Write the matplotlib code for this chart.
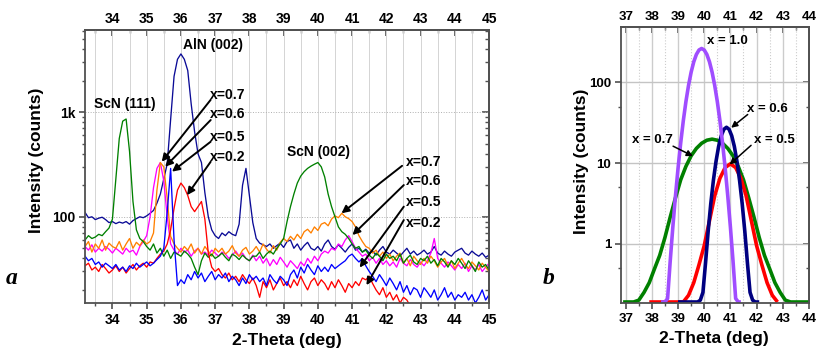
import numpy as np
import matplotlib
matplotlib.use('Agg')
import matplotlib.pyplot as plt
from matplotlib.ticker import FixedLocator, MultipleLocator, FuncFormatter, NullFormatter, LogLocator

plt.rcParams['font.family'] = ['Liberation Sans', 'DejaVu Sans']
plt.rcParams['font.weight'] = 'bold'
plt.rcParams['axes.labelweight'] = 'bold'

# ---------------- Panel a data (XRD scans, 0.1 deg grid 33.2 .. 45.0) ----------------
two_theta_a = np.round(np.arange(33.2, 45.05, 0.1), 1)

scan_aln = [110, 98, 100, 94, 97, 99, 94, 88, 90, 86,
            89, 87, 90, 85, 92, 96, 100, 98, 102, 108,
            115, 135, 165, 230, 320, 850, 2200, 3200, 3600, 3200,
            2500, 1200, 650, 400, 330, 170, 100, 75, 66, 62,
            70, 66, 72, 68, 66, 85, 200, 290, 160, 88,
            62, 56, 54, 52, 55, 50, 53, 56, 51, 58,
            60, 50, 55, 48, 53, 57, 50, 48, 52, 47,
            55, 60, 52, 49, 54, 50, 46, 51, 55, 48,
            50, 46, 49, 45, 47, 43, 48, 52, 46, 44,
            48, 45, 42, 46, 50, 44, 47, 43, 45, 48,
            44, 46, 52, 45, 43, 47, 44, 42, 46, 48,
            50, 45, 43, 47, 44, 42, 45, 41, 43]

scan_scn = [60, 66, 62, 64, 68, 66, 72, 78, 95, 230,
            560, 820, 860, 420, 140, 75, 62, 58, 52, 48,
            55, 45, 50, 42, 48, 40, 46, 44, 42, 47,
            44, 40, 33, 28, 38, 45, 41, 44, 40, 42,
            45, 41, 38, 44, 42, 39, 43, 40, 38, 42,
            42, 46, 40, 44, 47, 44, 50, 55, 62, 90,
            125, 165, 210, 245, 270, 290, 305, 318, 330, 300,
            240, 165, 125, 100, 80, 72, 68, 62, 55, 50,
            52, 46, 48, 43, 40, 45, 42, 38, 44, 40,
            42, 38, 44, 36, 40, 43, 37, 35, 40, 38,
            42, 36, 39, 34, 40, 37, 33, 38, 35, 40,
            36, 32, 38, 34, 30, 37, 33, 35, 31]

scan_x06 = [52, 48, 54, 46, 50, 47, 52, 49, 45, 50,
            47, 44, 50, 46, 48, 43, 52, 58, 66, 100,
            190, 290, 330, 220, 100, 55, 48, 44, 50, 46,
            48, 42, 47, 50, 44, 46, 43, 48, 45, 42,
            46, 44, 40, 43, 47, 42, 45, 40, 38, 43,
            38, 42, 36, 40, 34, 39, 35, 41, 37, 33,
            38, 35, 32, 37, 34, 40, 36, 42, 38, 44,
            47, 45, 50, 48, 55, 52, 60, 66, 58, 50,
            46, 42, 44, 38, 41, 36, 40, 35, 38, 34,
            37, 33, 40, 36, 34, 39, 35, 33, 37, 34,
            38, 45, 62, 40, 36, 33, 37, 34, 31, 35,
            32, 36, 30, 34, 31, 35, 30, 33, 36]

scan_x07 = [52, 58, 46, 55, 50, 60, 48, 56, 52, 50,
            58, 48, 55, 62, 50, 57, 53, 60, 55, 58,
            70, 180, 330, 300, 150, 65, 55, 50, 46, 52,
            48, 55, 45, 50, 44, 52, 47, 42, 50, 46,
            50, 44, 47, 53, 45, 42, 48, 51, 44, 47,
            52, 46, 55, 49, 45, 53, 48, 57, 62, 58,
            65, 60, 68, 62, 72, 76, 70, 80, 74, 85,
            88, 82, 95, 102, 98, 108, 100, 96, 90, 80,
            66, 58, 52, 50, 45, 48, 42, 46, 40, 44,
            38, 42, 45, 36, 40, 34, 42, 38, 35, 40,
            36, 42, 38, 33, 37, 40, 34, 38, 32, 36,
            40, 35, 32, 37, 34, 31, 36, 33, 30]

scan_x02 = [34, 36, 31, 33, 30, 35, 32, 29, 31, 34,
            30, 33, 29, 32, 35, 31, 34, 36, 33, 37,
            36, 40, 44, 47, 55, 75, 120, 180, 210, 190,
            160, 125, 112, 125, 140, 95, 45, 33, 30, 32,
            28, 26, 29, 25, 27, 24, 28, 25, 23, 26,
            22, 17, 24, 21, 25, 20, 23, 26, 22, 24,
            21, 25, 22, 27, 23, 20, 24, 26, 22, 25,
            23, 20, 24, 21, 25, 22, 19, 23, 21, 24,
            22, 26, 25, 27, 23, 20, 18, 21, 17, 19,
            16, 18, 15, 17, 16, 14, 13, 14, 13, 12,
            13, 12, 14, 13, 12, 13, 14, 12, 13, 12,
            13, 12, 14, 13, 12, 13, 12, 14, 13]

scan_x05 = [42, 38, 40, 35, 37, 33, 36, 34, 32, 35,
            31, 33, 30, 34, 32, 36, 33, 35, 37, 34,
            36, 39, 42, 50, 110, 290, 60, 22, 25, 23,
            28, 25, 30, 26, 29, 24, 27, 30, 25, 28,
            26, 29, 24, 27, 25, 22, 26, 23, 28, 25,
            27, 24, 26, 22, 28, 25, 23, 27, 25, 22,
            28, 31, 26, 33, 29, 35, 31, 28, 34, 30,
            33, 30, 35, 32, 34, 36, 38, 42, 44, 40,
            37, 40, 34, 30, 27, 24, 28, 25, 22, 26,
            23, 20, 24, 19, 22, 18, 21, 20, 17, 21,
            19, 17, 20, 16, 18, 21, 17, 19, 16, 18,
            17, 19, 16, 18, 15, 17, 20, 16, 18]

series_a = [
    (scan_aln, '#0a0a96'),
    (scan_x06, '#ff00ff'),
    (scan_x07, '#ff8000'),
    (scan_scn, '#008000'),
    (scan_x02, '#ff0000'),
    (scan_x05, '#0000ff'),
]

ticks_a = [34, 35, 36, 37, 38, 39, 40, 41, 42, 43, 44, 45]
minor_a = [33.5, 34.5, 35.5, 36.5, 37.5, 38.5, 39.5, 40.5, 41.5, 42.5, 43.5, 44.5]

# ---------------- Panel b data (fitted peak profiles) ----------------
tt_x10 = [38.35, 38.5, 38.6, 38.7, 38.8, 38.9, 39.0, 39.1, 39.2, 39.3, 39.4, 39.5, 39.6,
          39.7, 39.8, 39.9, 40.0, 40.1, 40.2, 40.3, 40.4, 40.5, 40.6, 40.7, 40.8, 40.9,
          41.0, 41.1, 41.2, 41.3, 41.4]
int_x10 = [0.19, 0.19, 0.21, 0.61, 1.61, 3.89, 8.67, 17.7, 33.4, 57.7, 91.7, 134, 180,
           222, 252, 263, 252, 222, 180, 134, 91.7, 57.7, 33.4, 17.7, 8.67, 3.89,
           1.61, 0.61, 0.21, 0.19, 0.19]

tt_x06 = [39.0, 39.75, 39.85, 39.95, 40.05, 40.15, 40.25, 40.35, 40.45, 40.55, 40.65,
          40.75, 40.85, 40.95, 41.05, 41.15, 41.25, 41.35, 41.45, 41.55, 41.65, 41.75,
          41.85, 41.95, 42.1]
int_x06 = [0.19, 0.19, 0.20, 0.25, 0.58, 1.43, 3.14, 6.11, 10.5, 16.1, 21.8,
           26.2, 27.8, 26.2, 21.8, 16.1, 10.5, 6.11, 3.14, 1.43, 0.58, 0.25,
           0.20, 0.19, 0.19]

tt_x05 = [37.9, 39.2, 39.4, 39.6, 39.8, 40.0, 40.2, 40.4, 40.6, 40.8, 41.0, 41.2,
          41.4, 41.6, 41.8, 42.0, 42.2, 42.4, 42.6, 42.8]
int_x05 = [0.19, 0.19, 0.23, 0.33, 0.55, 0.95, 1.93, 3.93, 6.5, 8.8, 9.8, 8.8,
           6.5, 3.93, 1.93, 0.95, 0.55, 0.33, 0.23, 0.19]

tt_x07 = [36.9, 37.3, 37.5, 37.7, 37.9, 38.1, 38.3, 38.5, 38.7, 38.9, 39.1, 39.3, 39.5,
          39.7, 39.9, 40.1, 40.3, 40.5, 40.7, 40.9, 41.1, 41.3, 41.5, 41.7, 41.9, 42.1,
          42.3, 42.5, 42.7, 42.9, 43.1, 43.3, 44.0]
int_x07 = [0.19, 0.19, 0.20, 0.25, 0.33, 0.49, 0.72, 1.2, 2.14, 3.7, 6.2, 9.1, 12.3,
           15.2, 17.6, 19.2, 19.8, 19.2, 17.6, 15.2, 12.3, 9.1, 6.2, 3.7, 2.14, 1.2,
           0.72, 0.49, 0.33, 0.25, 0.20, 0.19, 0.19]

series_b = [
    (tt_x07, int_x07, '#008000'),
    (tt_x05, int_x05, '#ff0000'),
    (tt_x06, int_x06, '#000080'),
    (tt_x10, int_x10, '#a04dff'),
]

ticks_b = [37, 38, 39, 40, 41, 42, 43, 44]
minor_b = [37.5, 38.5, 39.5, 40.5, 41.5, 42.5, 43.5]

# ---------------- Figure ----------------
fig = plt.figure(figsize=(8.2, 3.54), dpi=100)
axa = fig.add_axes([0.1037, 0.1441, 0.4927, 0.7712])
axb = fig.add_axes([0.757, 0.1432, 0.2295, 0.7814])

spine_col = '#505050'
TICK_FS = 10
TICK_FS_B = 9.5
ANN_FS = 10


def style_spines(ax):
    for s in ax.spines.values():
        s.set_color(spine_col)
        s.set_linewidth(1.3)


# ----- panel a -----
for vals, col in series_a:
    axa.plot(two_theta_a, vals, color=col, lw=0.95)

axa.set_yscale('log')
axa.set_xlim(33.2, 45.0)
axa.set_ylim(15, 6100)
axa.xaxis.set_major_locator(FixedLocator(ticks_a))
axa.xaxis.set_minor_locator(FixedLocator(minor_a))
axa.yaxis.set_major_locator(FixedLocator([100, 1000]))
axa.yaxis.set_minor_locator(LogLocator(base=10, subs=np.arange(2, 10)))
axa.yaxis.set_major_formatter(FuncFormatter(lambda v, p: '1k' if v >= 1000 else '%d' % v))
axa.yaxis.set_minor_formatter(NullFormatter())
axa.tick_params(axis='both', which='major', direction='out', length=4, width=1.2,
                color=spine_col, labelsize=TICK_FS, pad=3)
axa.tick_params(axis='both', which='minor', direction='out', length=2.5, width=1.0,
                color=spine_col)
for lab in axa.get_xticklabels() + axa.get_yticklabels():
    lab.set_fontweight('bold')
axa.grid(True, axis='x', which='both', color='#d4d4d4', lw=0.7)
axa.grid(True, axis='y', which='major', color='#b0b0b0', lw=0.7, ls=':')
axa.set_axisbelow(True)
style_spines(axa)

tax = axa.secondary_xaxis('top')
tax.xaxis.set_major_locator(FixedLocator(ticks_a))
tax.xaxis.set_minor_locator(FixedLocator(minor_a))
tax.tick_params(which='major', direction='in', length=4, width=1.2, color=spine_col,
                labelsize=TICK_FS, pad=3)
tax.tick_params(which='minor', direction='in', length=2.5, width=1.0, color=spine_col)
for lab in tax.get_xticklabels():
    lab.set_fontweight('bold')
tax.spines['top'].set_color(spine_col)
tax.spines['top'].set_linewidth(1.3)

rax = axa.secondary_yaxis('right')
rax.yaxis.set_major_locator(FixedLocator([100, 1000]))
rax.yaxis.set_minor_locator(LogLocator(base=10, subs=np.arange(2, 10)))
rax.yaxis.set_major_formatter(NullFormatter())
rax.yaxis.set_minor_formatter(NullFormatter())
rax.tick_params(which='major', direction='in', length=5, width=1.2, color=spine_col)
rax.tick_params(which='minor', direction='in', length=3, width=1.0, color=spine_col)
rax.spines['right'].set_color(spine_col)
rax.spines['right'].set_linewidth(1.3)

axa.text(36.95, 4420, 'AlN (002)', ha='center', va='center', fontsize=ANN_FS, fontweight='bold')
axa.text(34.36, 1200, 'ScN (111)', ha='center', va='center', fontsize=ANN_FS, fontweight='bold')
axa.text(40.01, 420, 'ScN (002)', ha='center', va='center', fontsize=ANN_FS, fontweight='bold')

left_labels = ['x=0.7', 'x=0.6', 'x=0.5', 'x=0.2']
left_label_y = [1466, 962, 583, 376]
left_tails = [(36.87, 1313), (36.87, 841), (36.87, 522), (36.87, 336)]
left_tips = [(35.44, 336), (35.54, 301), (35.74, 270), (36.18, 161)]
right_label_y = [336, 220, 137, 86.4]
right_tails = [(42.46, 307), (42.51, 201), (42.51, 125), (42.51, 93)]
right_tips = [(40.69, 108), (41.01, 66.9), (41.22, 32.7), (41.42, 22.2)]

arrow_kw = dict(arrowstyle='-|>', color='black', lw=1.4, mutation_scale=11,
                shrinkA=0, shrinkB=0)
for lab, ly, tail, tip in zip(left_labels, left_label_y, left_tails, left_tips):
    axa.text(36.84, ly, lab, ha='left', va='center', fontsize=ANN_FS, fontweight='bold')
    axa.annotate('', xy=tip, xytext=tail, arrowprops=arrow_kw)
for lab, ly, tail, tip in zip(left_labels, right_label_y, right_tails, right_tips):
    axa.text(42.56, ly, lab, ha='left', va='center', fontsize=ANN_FS, fontweight='bold')
    axa.annotate('', xy=tip, xytext=tail, arrowprops=arrow_kw)

# ----- panel b -----
for xs, ys, col in series_b:
    axb.plot(xs, ys, color=col, lw=2.6, solid_capstyle='butt')

axb.set_yscale('log')
axb.set_xlim(36.81, 44.0)
axb.set_ylim(0.183, 490)
axb.xaxis.set_major_locator(FixedLocator(ticks_b))
axb.xaxis.set_minor_locator(FixedLocator(minor_b))
axb.yaxis.set_major_locator(FixedLocator([1, 10, 100]))
axb.yaxis.set_minor_locator(FixedLocator([0.5, 5, 50]))
axb.yaxis.set_major_formatter(FuncFormatter(lambda v, p: '%d' % v))
axb.yaxis.set_minor_formatter(NullFormatter())
axb.tick_params(axis='both', which='major', direction='out', length=4, width=1.2,
                color=spine_col, labelsize=TICK_FS_B, pad=3)
axb.tick_params(axis='both', which='minor', direction='out', length=2.5, width=1.0,
                color=spine_col)
for lab in axb.get_xticklabels() + axb.get_yticklabels():
    lab.set_fontweight('bold')
axb.grid(True, axis='x', which='major', color='#cccccc', lw=1.0)
axb.grid(True, axis='x', which='minor', color='#cccccc', lw=0.8, ls=':')
axb.grid(True, axis='y', which='major', color='#c4c4c4', lw=1.0)
axb.set_axisbelow(True)
style_spines(axb)

tbx = axb.secondary_xaxis('top')
tbx.xaxis.set_major_locator(FixedLocator(ticks_b))
tbx.xaxis.set_minor_locator(FixedLocator(minor_b))
tbx.tick_params(which='major', direction='in', length=4, width=1.2, color=spine_col,
                labelsize=TICK_FS_B, pad=3)
tbx.tick_params(which='minor', direction='in', length=2.5, width=1.0, color=spine_col)
for lab in tbx.get_xticklabels():
    lab.set_fontweight('bold')
tbx.spines['top'].set_color(spine_col)
tbx.spines['top'].set_linewidth(1.3)

rbx = axb.secondary_yaxis('right')
rbx.yaxis.set_major_locator(FixedLocator([1, 10, 100]))
rbx.yaxis.set_minor_locator(FixedLocator([0.5, 5, 50]))
rbx.yaxis.set_major_formatter(NullFormatter())
rbx.yaxis.set_minor_formatter(NullFormatter())
rbx.tick_params(which='major', direction='in', length=4, width=1.2, color=spine_col)
rbx.tick_params(which='minor', direction='in', length=2.5, width=1.0, color=spine_col)
rbx.spines['right'].set_color(spine_col)
rbx.spines['right'].set_linewidth(1.3)

BFS = 9.5
arrow_b = dict(arrowstyle='-|>', color='black', lw=1.1, mutation_scale=9,
               shrinkA=0, shrinkB=0)
axb.text(40.89, 326, 'x = 1.0', ha='center', va='center', fontsize=BFS, fontweight='bold')
axb.text(42.41, 47, 'x = 0.6', ha='center', va='center', fontsize=BFS, fontweight='bold')
axb.annotate('', xy=(41.03, 27.4), xytext=(41.66, 40), arrowprops=arrow_b)
axb.text(42.68, 19.6, 'x = 0.5', ha='center', va='center', fontsize=BFS, fontweight='bold')
axb.annotate('', xy=(40.97, 9.6), xytext=(41.79, 16.6), arrowprops=arrow_b)
axb.text(38.04, 19.6, 'x = 0.7', ha='center', va='center', fontsize=BFS, fontweight='bold')
axb.annotate('', xy=(39.57, 12.2), xytext=(38.81, 16.2), arrowprops=arrow_b)

# ----- axis titles and panel letters -----
LFS = 12.5
fig.text(287 / 820, 1 - 340 / 354, '2-Theta (deg)', ha='center', va='center',
         fontsize=LFS, fontweight='bold')
fig.text(714 / 820, 1 - 338 / 354, '2-Theta (deg)', ha='center', va='center',
         fontsize=LFS, fontweight='bold')
fig.text(37 / 820, 1 - 160 / 354, 'Intensity (counts)', ha='center', va='center',
         rotation=90, fontsize=LFS, fontweight='bold')
fig.text(582 / 820, 1 - 161 / 354, 'Intensity (counts)', ha='center', va='center',
         rotation=90, fontsize=LFS, fontweight='bold')
fig.text(12 / 820, 1 - 279 / 354, 'a', ha='center', va='center', fontsize=17,
         family=['Liberation Serif', 'DejaVu Serif'], style='italic', fontweight='bold')
fig.text(549 / 820, 1 - 278 / 354, 'b', ha='center', va='center', fontsize=17,
         family=['Liberation Serif', 'DejaVu Serif'], style='italic', fontweight='bold')

fig.savefig('out.png', dpi=100)
